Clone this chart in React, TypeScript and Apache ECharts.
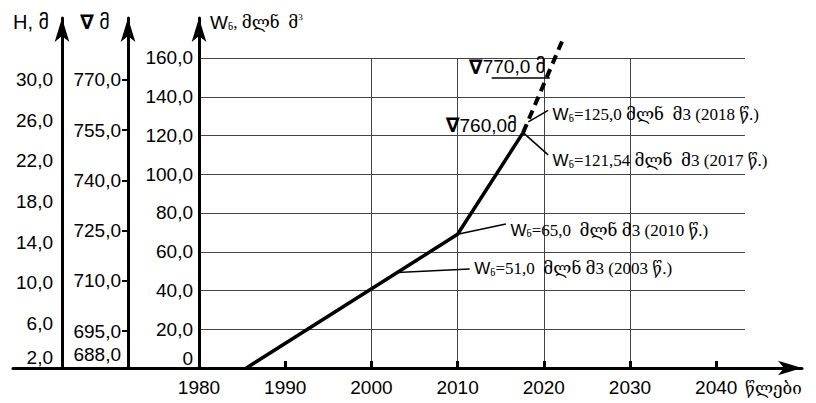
import React, { useEffect, useRef } from 'react';
import * as echarts from 'echarts';

// ---- data ----
const yearTicks = [1980, 1990, 2000, 2010, 2020, 2030, 2040];
const volumeTicks = [0, 20, 40, 60, 80, 100, 120, 140, 160];
const levelTicks = [695, 710, 725, 740, 755, 770];
const levelLabels = [688, 695, 710, 725, 740, 755, 770];
const depthLabels = [2, 6, 10, 14, 18, 22, 26, 30];

const actualYears = [1985.5, 2010, 2017.6];
const actualVolume = [0, 69, 121.5];
const forecastYears = [2017.6, 2022.3];
const forecastVolume = [121.5, 170.5];

const noteTexts = [
  '=51,0  მლნ მ3 (2003 წ.)',
  '=65,0  მლნ მ3 (2010 წ.)',
  '=125,0 მლნ  მ3 (2018 წ.)',
  '=121,54 მლნ  მ3 (2017 წ.)',
];
const noteFromX = [2003, 2010, 2018.2, 2017.6];
const noteFromY = [49.3, 69, 127, 121.5];
const noteToX = [2011.4, 2015.6, 2020.5, 2020.5];
const noteToY = [51.1, 74.3, 133, 110];
const noteTextY = [51.1, 71.2, 130.6, 107];

const levelNoteTexts = ['760,0მ', '770,0 მ'];
const levelNoteX = [2017.3, 2020.6];
const levelNoteY = [125.4, 155.4];
const underlineX = [2013.95, 2020.7];
const underlineY = 149.7;

const SANS = "'Liberation Sans', Arial, 'DejaVu Sans', sans-serif";
const SERIF = "'Liberation Serif', 'DejaVu Serif', 'DejaVu Sans', serif";

const fmt = (v: number) => v.toFixed(1).replace('.', ',');

export default function App() {
  const ref = useRef<HTMLDivElement>(null);

  useEffect(() => {
    if (!ref.current) return;
    const chart = echarts.init(ref.current, undefined, { renderer: 'svg' });

    const labelBase = { fontSize: 19, fontFamily: SANS, color: '#000' };
    const arrowLine = {
      show: true,
      symbol: ['none', 'arrow'],
      symbolSize: [11, 24],
      lineStyle: { color: '#000', width: 3 },
    };
    const noteRich = {
      w: { fontSize: 17, fontFamily: SANS, color: '#000' },
      s: { fontSize: 9, fontFamily: SERIF, color: '#000', verticalAlign: 'bottom', padding: [6, 0, 0, 0] },
      t: { fontSize: 17, fontFamily: SERIF, color: '#000' },
    };

    const option: any = {
      animation: false,
      backgroundColor: '#fff',
      grid: [
        { left: 199, right: 71, top: 58, bottom: 35, containLabel: false, outerBoundsMode: 'none' },
        { left: 199, right: 71, top: 18, bottom: 35, containLabel: false, outerBoundsMode: 'none' },
        { left: 13, right: 14, top: 18, bottom: 35, containLabel: false, outerBoundsMode: 'none' },
      ],
      xAxis: [
        {
          gridIndex: 0,
          type: 'value',
          min: 1980,
          max: 2043.34,
          interval: 10,
          axisLine: { show: false },
          axisTick: {
            show: true,
            inside: true,
            length: 7,
            customValues: yearTicks.slice(1),
            lineStyle: { color: '#000', width: 3 },
          },
          axisLabel: {
            ...labelBase,
            customValues: yearTicks,
            margin: 10,
            formatter: (v: number) => String(v),
          },
          splitLine: {
            show: true,
            showMinLine: false,
            showMaxLine: false,
            lineStyle: { color: '#444', width: 1 },
          },
        },
        { gridIndex: 1, type: 'value', min: 0, max: 1, show: false },
        {
          gridIndex: 2,
          type: 'value',
          min: 0,
          max: 1,
          axisLine: arrowLine,
          axisTick: { show: false },
          axisLabel: { show: false },
          splitLine: { show: false },
        },
      ],
      yAxis: [
        {
          gridIndex: 0,
          type: 'value',
          min: 0,
          max: 160,
          interval: 20,
          axisLine: { show: false },
          axisTick: { show: false },
          axisLabel: { show: false },
          splitLine: { show: true, showMinLine: false, lineStyle: { color: '#444', width: 1 } },
        },
        {
          gridIndex: 1,
          type: 'value',
          position: 'left',
          offset: 0,
          min: 0,
          max: 180.6,
          axisLine: arrowLine,
          axisTick: { show: false },
          splitLine: { show: false },
          axisLabel: {
            ...labelBase,
            customValues: volumeTicks,
            margin: 6,
            formatter: (v: number) => (v === 0 ? '{up|0}' : fmt(v)),
            rich: { up: { ...labelBase, padding: [0, 0, 20, 0] } },
          },
        },
        {
          gridIndex: 1,
          type: 'value',
          position: 'left',
          offset: 71,
          min: 683.95,
          max: 788.52,
          axisLine: arrowLine,
          axisTick: {
            show: true,
            length: 6,
            customValues: levelTicks,
            lineStyle: { color: '#000', width: 2 },
          },
          splitLine: { show: false },
          axisLabel: {
            ...labelBase,
            customValues: levelLabels,
            margin: 7,
            formatter: (v: number) => fmt(v),
          },
        },
        {
          gridIndex: 1,
          type: 'value',
          position: 'left',
          offset: 137,
          min: 1.58,
          max: 36.09,
          axisLine: arrowLine,
          axisTick: { show: false },
          splitLine: { show: false },
          axisLabel: {
            ...labelBase,
            customValues: depthLabels,
            margin: 9,
            formatter: (v: number) => (v === 2 ? '{up|2,0}' : fmt(v)),
            rich: { up: { ...labelBase, padding: [0, 0, 12, 0] } },
          },
        },
        { gridIndex: 2, type: 'value', min: 0, max: 1, show: false },
      ],
      series: [
        {
          type: 'line',
          xAxisIndex: 0,
          yAxisIndex: 0,
          symbol: 'none',
          data: actualYears.map((y, i) => [y, actualVolume[i]]),
          lineStyle: { color: '#000', width: 3.5 },
          z: 5,
          markLine: {
            silent: true,
            symbol: ['none', 'none'],
            label: { show: false },
            lineStyle: { color: '#000', width: 1.5, type: 'solid' },
            emphasis: { disabled: true },
            z: 6,
            data: [
              ...noteFromX.map((x, i) => [
                { coord: [x, noteFromY[i]] },
                { coord: [noteToX[i], noteToY[i]] },
              ]),
              [{ coord: [underlineX[0], underlineY] }, { coord: [underlineX[1], underlineY] }],
            ],
          },
          markPoint: {
            silent: true,
            symbol: 'circle',
            symbolSize: 1,
            itemStyle: { color: 'rgba(0,0,0,0)' },
            data: [
              ...noteTexts.map((t, i) => ({
                coord: [noteToX[i], noteTextY[i]],
                label: {
                  show: true,
                  position: 'right',
                  distance: 4,
                  formatter: `{w|W}{s|ნ}{t|${t}}`,
                  rich: noteRich,
                },
              })),
              ...levelNoteTexts.map((t, i) => ({
                coord: [levelNoteX[i], levelNoteY[i]],
                label: {
                  show: true,
                  position: 'left',
                  distance: 3,
                  formatter: `{tri|∇}{v|${t}}`,
                  rich: {
                    tri: { fontSize: 20, fontWeight: 'bold', fontFamily: "'DejaVu Sans', sans-serif", color: '#000' },
                    v: { fontSize: 19, fontFamily: SANS, color: '#000' },
                  },
                },
              })),
            ],
          },
        },
        {
          type: 'line',
          xAxisIndex: 0,
          yAxisIndex: 0,
          symbol: 'none',
          clip: false,
          data: forecastYears.map((y, i) => [y, forecastVolume[i]]),
          lineStyle: { color: '#000', width: 4, type: [9, 6] },
          z: 4,
        },
      ],
      graphic: [
        {
          type: 'text',
          x: 13,
          y: 22,
          style: {
            text: 'H, მ',
            font: `20px ${SANS}`,
            fill: '#000',
            textAlign: 'left',
            textVerticalAlign: 'middle',
            verticalAlign: 'middle',
          },
        },
        {
          type: 'text',
          x: 80,
          y: 22,
          style: {
            text: '{tri|∇} {v|მ}',
            font: `19px ${SANS}`,
            fill: '#000',
            textAlign: 'left',
            textVerticalAlign: 'middle',
            verticalAlign: 'middle',
            rich: {
              tri: { fontSize: 20, fontWeight: 'bold', fontFamily: "'DejaVu Sans', sans-serif", fill: '#000' },
              v: { fontSize: 20, fontFamily: SANS, fill: '#000' },
            },
          },
        },
        {
          type: 'text',
          x: 210,
          y: 22,
          style: {
            text: '{w|W}{s|ნ}{t|, მლნ  მ}{sup|3}',
            font: `19px ${SANS}`,
            fill: '#000',
            textAlign: 'left',
            textVerticalAlign: 'middle',
            verticalAlign: 'middle',
            rich: {
              w: { fontSize: 19, fontFamily: SANS, fill: '#000' },
              s: { fontSize: 9, fontFamily: SERIF, fill: '#000', verticalAlign: 'bottom', padding: [8, 0, 0, 0] },
              t: { fontSize: 17, fontFamily: SERIF, fill: '#000' },
              sup: { fontSize: 9, fontFamily: SERIF, fill: '#000', verticalAlign: 'top' },
            },
          },
        },
        {
          type: 'text',
          x: 745,
          y: 388,
          style: {
            text: 'წლები',
            font: `17px ${SERIF}`,
            fill: '#000',
            textAlign: 'left',
            textVerticalAlign: 'middle',
            verticalAlign: 'middle',
          },
        },
      ],
    };

    chart.setOption(option);
    return () => chart.dispose();
  }, []);

  return (
    <div
      ref={ref}
      style={{ position: 'fixed', left: 0, top: 0, width: 816, height: 403, background: '#fff' }}
    />
  );
}
